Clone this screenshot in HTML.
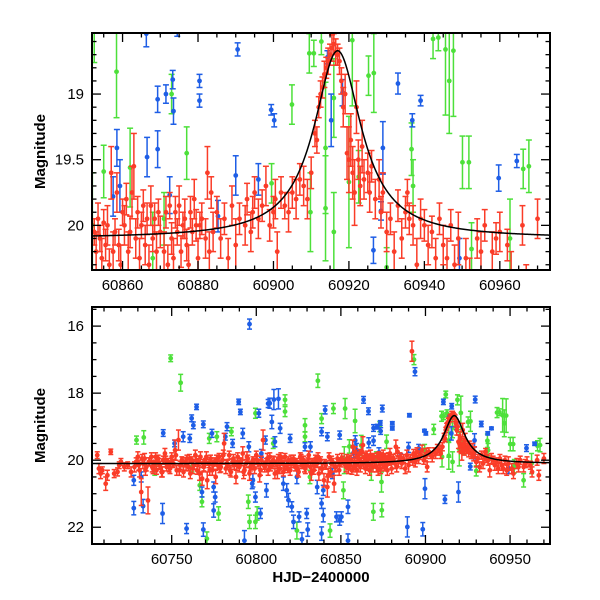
<!DOCTYPE html>
<html><head><meta charset="utf-8"><style>
body{margin:0;background:#fff}
svg{display:block}
text{font-family:"Liberation Sans",Arial,sans-serif;fill:#000}
</style></head><body>
<svg id="chart" width="600" height="600" viewBox="0 0 600 600">
<defs>
<clipPath id="clipTop"><rect x="92" y="33" width="458" height="237"/></clipPath>
<clipPath id="clipBot"><rect x="92" y="307" width="458" height="237"/></clipPath>
</defs>
<g id="topPanel"></g>
<g id="botPanel"></g>
</svg>
<script>
const redT=[60706,60707,60708,60709,60711,60712,60714,60716,60718,60719,60720,60722,60724,60726,60728,60729,60730,60731,60732,60733,60734,60735,60736,60737,60738,60739,60740,60741,60742,60743,60744,60745,60746,60747,60748,60749,60750,60751,60752,60753,60754,60755,60756,60757,60758,60759,60760,60761,60762,60763,60764,60765,60766,60767,60768,60769,60770,60771,60772,60773,60774,60775,60776,60777,60778,60779,60780,60781,60782,60783,60784,60785,60786,60787,60788,60789,60790,60791,60792,60793,60794,60795,60796,60797,60798,60799,60800,60801,60802,60803,60804,60805,60806,60807,60808,60809,60810,60811,60812,60813,60814,60815,60816,60817,60818,60819,60820,60821,60822,60823,60824,60825,60826,60827,60828,60829,60830,60831,60832,60833,60834,60835,60836,60837,60838,60839,60840,60841,60842,60843,60844,60845,60846,60847,60848,60849,60850,60851,
60730.5,60732.5,60734.5,60736.5,60738.5,60740.5,60742.5,60744.5,60746.5,60748.5,60750.5,60752.5,60754.5,60756.5,60758.5,60760.5,60762.5,60764.5,60766.5,60768.5,60770.5,60772.5,60774.5,60776.5,60778.5,60780.5,60782.5,60784.5,60786.5,60788.5,60790.5,60792.5,60794.5,60796.5,60798.5,60800.5,60802.5,60804.5,60806.5,60808.5,60810.5,60812.5,60814.5,60816.5,60818.5,60820.5,60822.5,60824.5,60826.5,60828.5,60830.5,60832.5,60834.5,60836.5,60838.5,60840.5,60842.5,60844.5,60846.5,60848.5,60850.5,
60852.5,60853,60853.5,60854,60854.5,60855,60855.5,60856,60856.5,60857,60857.5,60858,60858.5,60859,60859.5,60860,60860.5,60861,60861.5,60862,60862.5,60863,60863.5,60864,60864.5,60865,60865.5,60866,60866.5,60867,60867.5,60868,60868.5,60869,60869.5,60870,60871,60871.5,60872,60872.5,60873,60873.5,60874,60874.5,60875,60875.5,60876,60876.5,60877,60877.5,60878,60878.5,60879,60879.5,60880,60880.5,60881,60882,60882.5,60883,60883.5,60884,60885,60886,60887,60888,60889,60890,60891,60892,60892.5,60893,60894,60894.5,60895,60896,60897,60898,60899,60900,60900.5,60901,60902,60903,60904,60905,60906,60907,60908,60909,60910,60911,60911.5,60912,60912.5,60913,60913.5,60914,60914.5,60915,60915.5,60916,60916.5,60917,60917.5,60918,60918.5,60919,60919.5,60920,60920.5,60921,60921.5,60922,60922.5,60923,60923.5,60924,60925,60925.5,60926,60927,60928,60928.5,60929,60930,60931,60932,60933,60934,60935,60935.5,60936,60937,60938,60939,60940,60941,60942,60943,60944,60945,60946,60947,60948,60949,60951,60952,60954,60955,60956,60958,60959,60960,60962,60963,60966,60967,60970];
const redM=[19.85,20.25,20.4,20.3,20.7,20.45,19.75,20.4,20.35,20.15,20.05,20.2,20.15,20.35,20.2,20.05,19.9,20.3,20.95,20.1,19.95,20.2,21.2,20.05,19.9,20.25,20.1,20.3,19.95,20.15,20.35,20.0,19.8,20.2,20.05,20.25,19.9,20.1,19.7,20.3,19.4,20.15,20.0,20.35,20.05,19.95,20.2,20.4,20.0,20.15,19.85,20.3,20.05,19.9,20.55,20.2,20.05,20.6,20.1,19.95,20.3,20.05,20.5,20.15,19.9,20.2,20.0,19.5,20.25,20.1,19.85,20.35,20.05,20.15,20.5,19.9,20.2,20.05,19.8,20.3,20.1,19.95,20.4,20.15,20.0,20.25,19.85,20.1,20.45,20.0,19.4,20.2,20.05,20.3,19.9,20.15,20.0,20.4,20.1,19.95,20.25,20.05,20.35,19.9,20.15,20.0,20.3,20.1,19.95,20.2,20.05,20.35,19.9,20.15,20.0,20.25,20.1,19.85,20.2,20.05,20.3,19.95,20.1,20.4,20.0,20.25,20.6,20.15,20.8,19.9,20.35,20.05,20.7,20.2,19.95,20.3,20.1,20.0,
20.15,19.95,20.3,20.05,20.2,19.9,20.1,20.35,20.0,20.2,20.1,19.85,20.3,20.05,20.15,19.95,20.25,20.0,20.4,20.1,19.9,20.3,20.15,20.0,20.25,19.85,20.1,20.3,19.95,20.15,20.05,20.35,19.9,20.2,20.1,20.0,20.3,20.15,19.95,20.2,20.05,20.35,19.9,20.15,20.25,20.0,20.1,20.3,19.95,20.2,20.05,20.4,20.15,19.9,20.25,20.1,20.45,20.0,20.2,20.05,19.95,
20.05,20.2,19.95,20.1,20.25,19.98,20.15,20.0,20.3,19.6,20.2,20.05,19.75,20.15,20.3,19.9,20.0,19.8,20.2,20.05,19.75,19.55,20.1,19.9,20.25,20.0,19.85,20.15,19.95,20.3,19.85,20.1,19.95,20.2,19.9,20.05,20.2,19.9,20.3,19.85,20.1,20.25,19.9,20.05,19.85,20.2,20.0,19.95,20.15,20.3,19.9,20.05,19.8,20.0,20.25,20.0,19.95,20.1,19.6,20.2,19.75,20.05,19.9,20.1,19.95,20.25,19.85,20.15,19.95,16.75,20.0,19.8,20.05,19.9,19.75,19.95,19.85,19.7,20.0,19.9,19.8,20.2,19.75,19.85,19.9,19.75,19.8,19.65,19.7,19.8,19.6,19.3,19.35,19.1,19.0,18.95,18.85,18.8,18.75,18.7,18.65,18.62,18.68,18.7,18.75,18.9,19.1,19.0,19.45,19.5,19.35,19.6,19.75,19.1,19.5,19.7,19.4,19.65,19.6,19.75,19.55,19.8,19.65,19.9,19.75,20.05,19.95,20.2,19.85,20.1,19.9,19.75,19.95,20.0,20.3,19.95,20.0,20.15,20.05,20.25,19.95,20.15,20.25,20.0,20.3,20.1,20.25,20.4,20.1,20.2,20.0,20.2,20.1,20.05,20.15,20.35,20.0,20.45,19.95];
const redE=[0.1,0.15,0.15,0.1,0.2,0.15,0.08,0.12,0.12,0.1,0.1,0.12,0.1,0.15,0.15,0.12,0.15,0.2,0.4,0.15,0.15,0.12,0.4,0.12,0.12,0.15,0.1,0.12,0.1,0.12,0.15,0.12,0.15,0.12,0.1,0.15,0.12,0.1,0.3,0.15,0.3,0.12,0.1,0.15,0.12,0.1,0.12,0.15,0.1,0.12,0.15,0.12,0.1,0.15,0.2,0.12,0.1,0.25,0.12,0.1,0.15,0.12,0.2,0.12,0.1,0.15,0.12,0.3,0.15,0.1,0.12,0.15,0.1,0.12,0.2,0.12,0.15,0.1,0.2,0.15,0.12,0.1,0.2,0.12,0.1,0.15,0.12,0.1,0.2,0.12,0.3,0.15,0.1,0.15,0.12,0.1,0.12,0.15,0.1,0.12,0.15,0.1,0.12,0.1,0.12,0.1,0.15,0.12,0.1,0.12,0.1,0.15,0.12,0.1,0.12,0.15,0.1,0.12,0.15,0.1,0.12,0.1,0.12,0.2,0.1,0.15,0.2,0.12,0.3,0.12,0.15,0.1,0.25,0.12,0.12,0.15,0.1,0.12,
0.15,0.12,0.15,0.12,0.15,0.12,0.15,0.15,0.12,0.15,0.12,0.15,0.15,0.12,0.15,0.12,0.15,0.12,0.2,0.12,0.15,0.15,0.12,0.15,0.12,0.15,0.12,0.15,0.12,0.15,0.12,0.2,0.15,0.12,0.15,0.12,0.15,0.12,0.15,0.12,0.15,0.2,0.12,0.15,0.12,0.15,0.12,0.15,0.12,0.15,0.12,0.2,0.15,0.12,0.15,0.12,0.2,0.12,0.15,0.12,0.15,
0.1,0.15,0.12,0.1,0.15,0.1,0.12,0.15,0.12,0.2,0.15,0.1,0.15,0.12,0.15,0.1,0.15,0.12,0.15,0.12,0.2,0.25,0.15,0.12,0.15,0.1,0.12,0.15,0.12,0.15,0.15,0.1,0.12,0.15,0.1,0.12,0.15,0.12,0.15,0.1,0.12,0.15,0.12,0.1,0.15,0.12,0.1,0.15,0.12,0.15,0.12,0.1,0.15,0.12,0.15,0.1,0.12,0.15,0.2,0.15,0.12,0.15,0.12,0.15,0.12,0.15,0.15,0.2,0.12,0.3,0.15,0.12,0.15,0.12,0.12,0.15,0.12,0.15,0.12,0.12,0.15,0.15,0.12,0.1,0.15,0.12,0.15,0.12,0.15,0.15,0.12,0.1,0.1,0.08,0.1,0.08,0.1,0.08,0.1,0.08,0.1,0.08,0.1,0.08,0.1,0.1,0.15,0.15,0.2,0.25,0.2,0.2,0.25,0.2,0.15,0.15,0.2,0.15,0.15,0.15,0.12,0.15,0.15,0.12,0.15,0.15,0.12,0.15,0.12,0.15,0.12,0.1,0.12,0.15,0.2,0.15,0.12,0.15,0.12,0.15,0.12,0.15,0.15,0.12,0.15,0.2,0.15,0.15,0.15,0.15,0.12,0.15,0.12,0.15,0.12,0.15,0.15,0.15,0.15];

const blueT=[60727.6,60727.6,60732,60733.1,60744.6,60745,60751.7,60756.8,60758.8,60760.7,60761.8,60762.8,60764.7,60767.9,60768.7,60768.7,60773.8,60774.8,60774.8,60775.7,60781.7,60782.7,60789.6,60790.6,60793,60795.6,60796,60797.6,60799.5,60801.5,60802.5,60805.4,60807,60808,60809.2,60810.4,60813.1,60814.1,60818,60819,60821,60822,60825.3,60827,60828.8,60829.8,60830.4,60838.6,60838.6,60838.6,60839.6,60839.6,60840.7,60847.4,60849.3,60849.3,60850.3,60854.2,60854.2,
60786,60792,60798,60803,60806,60811,60816,60820,60824,60832,60836,60842,60845,
60857.5,60858.5,60859.3,60863.4,60866.3,60866.5,60869.3,60869.3,60871.5,60872.5,60873.3,60873.5,60874.5,60880.4,60880.4,60885.3,60889.3,60890,60890.5,60893.8,60896,60898.4,60899.4,60899.7,60900.2,60910.6,60911.5,60914.3,60915.3,60915.5,60918.3,60919.5,60926.5,60928.5,60929,60929.4,60933,60936.8,60939,60949.3,60959.7,60964.5];
const blueM=[20.6,21.43,20.5,21.37,21.59,19.19,19.5,19.3,22.04,19.35,18.75,18.96,18.41,20.95,18.93,22.07,19.2,20.8,21.5,21.1,19.3,19.0,18.26,18.56,22.4,19.6,15.94,20.7,21.1,18.6,21.59,19.4,18.31,18.3,18.86,18.19,18.17,19.05,20.9,21.19,21.39,21.84,21.69,22.36,19.6,21.59,22.07,19.15,21.29,22.19,20.9,21.64,18.5,21.69,21.79,19.25,21.69,21.39,22.4,
19.5,19.2,20.6,19.8,20.9,19.45,20.7,19.35,20.5,19.6,20.8,19.3,20.4,
19.78,19.41,19.7,18.2,18.54,19.48,19.04,19.42,19.0,19.77,18.89,19.13,18.46,18.9,19.05,19.93,21.99,19.62,18.66,17.36,19.65,22.06,19.12,20.85,19.2,18.26,21.17,18.72,19.2,18.39,18.99,20.95,20.19,19.89,19.41,18.19,18.92,19.2,19.05,20.25,19.64,19.51];
const blueE=[0.15,0.2,0.15,0.2,0.3,0.1,0.1,0.15,0.15,0.12,0.1,0.1,0.08,0.15,0.1,0.2,0.12,0.15,0.2,0.15,0.1,0.12,0.08,0.08,0.3,0.15,0.15,0.15,0.15,0.12,0.15,0.12,0.12,0.15,0.2,0.3,0.3,0.15,0.2,0.2,0.15,0.2,0.15,0.2,0.12,0.15,0.2,0.12,0.15,0.2,0.15,0.2,0.12,0.15,0.15,0.12,0.15,0.2,0.2,
0.12,0.15,0.2,0.12,0.2,0.15,0.2,0.12,0.2,0.15,0.2,0.12,0.15,
0.15,0.14,0.2,0.1,0.1,0.15,0.1,0.14,0.07,0.14,0.07,0.1,0.1,0.05,0.05,0.12,0.3,0.15,0.05,0.12,0.12,0.2,0.04,0.3,0.05,0.08,0.12,0.05,0.2,0.08,0.1,0.3,0.1,0.07,0.2,0.1,0.08,0.05,0.04,0.15,0.1,0.05];

const greenT=[60729.2,60733.5,60740,60749.4,60755.3,60762,60766.6,60767.9,60770.8,60772.2,60776.7,60777.7,60785.3,60795.3,60796,60799.5,60799.5,60800.5,60810,60817,60817,60824,60828.8,60828.8,60831.7,60836.4,60838.6,60843.6,60845.6,60851.5,
60852,60852.5,60855,60858.4,60862,60868,60869.2,60871,60873,60874,60874.2,60877,60893.2,60899.5,60904.9,60909.5,60909.8,60910.7,60912,60912.7,60913.8,60913.8,60916,60916,60918.9,60920,60920.9,60922.6,60925.2,60926.6,60930,60936.6,60937,60942.3,60943.7,60945.6,60946.6,60947.7,60950.1,60951.8,60952.5,60958,60962.7,60966.2,60967.7];
const greenM=[19.4,19.32,20.3,16.96,17.69,20.2,20.75,21.24,22.34,19.35,19.3,21.59,19.15,21.24,21.84,18.6,21.84,21.59,19.5,18.2,18.55,22.1,18.96,19.3,20.5,17.63,18.76,22.1,18.46,20.9,
20.0,18.46,19.59,18.83,19.56,20.25,21.54,19.95,19.0,20.65,21.49,19.45,17.0,19.68,19.08,18.69,19.9,18.69,18.04,18.6,19.41,19.87,19.03,20.05,18.2,19.67,18.59,19.63,18.86,18.84,20.32,19.42,19.7,18.58,18.57,18.66,18.9,18.67,19.52,19.52,20.18,20.6,20.1,19.57,19.55];
const greenE=[0.12,0.2,0.15,0.1,0.25,0.15,0.15,0.15,0.2,0.15,0.15,0.2,0.12,0.2,0.2,0.15,0.2,0.2,0.15,0.15,0.15,0.25,0.2,0.15,0.2,0.2,0.15,0.2,0.15,0.25,
0.4,0.3,0.2,0.35,0.3,0.35,0.25,0.2,0.15,0.3,0.2,0.2,0.15,0.15,0.15,0.15,0.3,0.1,0.1,0.1,0.5,0.4,0.3,0.3,0.15,0.5,0.5,0.2,0.15,0.3,0.15,0.2,0.2,0.15,0.1,0.5,0.4,0.5,0.2,0.2,0.2,0.2,0.3,0.15,0.2];

const model={t0:60917,base:20.1,amp:1.43,w:7.6};
const topXTicks=[60860,60880,60900,60920,60940,60960];
const topYTicks=[19,19.5,20];
const botXTicks=[60750,60800,60850,60900,60950];
const botYTicks=[16,18,20,22];

const NS='http://www.w3.org/2000/svg';
function mk(tag,attrs,parent){const e=document.createElementNS(NS,tag);for(const k in attrs)e.setAttribute(k,attrs[k]);parent.appendChild(e);return e;}
function modelMag(t){const u=(t-model.t0)/model.w;return model.base-model.amp/(1+u*u);}

function panel(g,cfg){
  const L=92,R=550,T=cfg.top,B=cfg.bottom;
  const xs=t=>L+(t-cfg.x0)/(cfg.x1-cfg.x0)*(R-L);
  const ys=m=>T+(m-cfg.y0)/(cfg.y1-cfg.y0)*(B-T);
  const data=mk('g',{'clip-path':'url(#'+cfg.clip+')'},g);
  
  
  const series=[['green','#4de03a',greenT,greenM,greenE],['blue','#1e5ee6',blueT,blueM,blueE],['red','#fa3c28',redT,redM,redE]];
  series.forEach(([nm,col,T_,M_,E_])=>{
    const sg=mk('g',{stroke:col,fill:col,'stroke-width':1.5},data);
    
    
    for(let i=0;i<T_.length;i++){
      if(T_[i]<cfg.x0-1||T_[i]>cfg.x1+1)continue;
      const x=xs(T_[i]),y=ys(M_[i]),y1=ys(M_[i]-E_[i]),y2=ys(M_[i]+E_[i]);
      const p=mk('g',{},sg);
      
      
      mk('line',{x1:x,x2:x,y1:y1,y2:y2},p);
      mk('line',{x1:x-cfg.cap,x2:x+cfg.cap,y1:y1,y2:y1},p);
      mk('line',{x1:x-cfg.cap,x2:x+cfg.cap,y1:y2,y2:y2},p);
      mk('circle',{cx:x,cy:y,r:cfg.r,stroke:'none'},p);
    }
  });
  let d='';
  for(let t=cfg.x0;t<=cfg.x1;t+=0.25){d+=(d?'L':'M')+xs(t).toFixed(2)+','+ys(modelMag(t)).toFixed(2);}
  const ml=mk('path',{d:d,fill:'none',stroke:'#000','stroke-width':1.5},data);
  
  
  const fr=mk('rect',{x:L,y:T,width:R-L,height:B-T,fill:'none',stroke:'#000','stroke-width':2},g);
  
  
  const tk=mk('g',{stroke:'#000','stroke-width':1.3},g);
  for(let v=Math.ceil(cfg.x0/cfg.xMinor)*cfg.xMinor;v<=cfg.x1;v+=cfg.xMinor){
    const x=xs(v),major=Math.abs(v/cfg.xMajor-Math.round(v/cfg.xMajor))<1e-6,len=major?9:4.5;
    mk('line',{x1:x,x2:x,y1:B,y2:B-len},tk);mk('line',{x1:x,x2:x,y1:T,y2:T+len},tk);
  }
  const nY=Math.round((cfg.y1-cfg.y0)/cfg.yMinor);
  for(let k=0;k<=nY+1;k++){
    const v=Math.ceil(cfg.y0/cfg.yMinor-1e-6)*cfg.yMinor+k*cfg.yMinor;if(v>cfg.y1)break;
    const y=ys(v),major=Math.abs(v/cfg.yMajor-Math.round(v/cfg.yMajor))<1e-6,len=major?9:4.5;
    mk('line',{x1:L,x2:L+len,y1:y,y2:y},tk);mk('line',{x1:R,x2:R-len,y1:y,y2:y},tk);
  }
  cfg.xt.forEach(v=>{const t=mk('text',{x:xs(v),y:B+20,'text-anchor':'middle','font-size':15},g);t.textContent=v;
    });
  cfg.yt.forEach(v=>{const t=mk('text',{x:L-8,y:ys(v)+5,'text-anchor':'end','font-size':15},g);t.textContent=v;
    });
  const yl=mk('text',{x:0,y:0,'text-anchor':'middle','font-size':15,'font-weight':'bold',transform:'translate(45,'+((T+B)/2)+') rotate(-90)'},g);
  yl.textContent='Magnitude';
  
  
}
panel(document.getElementById('topPanel'),{top:33,bottom:270,x0:60851.9,x1:60973.3,y0:18.535,y1:20.34,clip:'clipTop',cap:3,r:2.4,xMinor:5,xMajor:20,yMinor:0.1,yMajor:0.5,xt:topXTicks,yt:topYTicks});
panel(document.getElementById('botPanel'),{top:307,bottom:544,x0:60702.9,x1:60973.6,y0:15.43,y1:22.5,clip:'clipBot',cap:2.5,r:2.4,xMinor:10,xMajor:50,yMinor:0.5,yMajor:2,xt:botXTicks,yt:botYTicks});
const xl=mk('text',{x:321,y:582,'text-anchor':'middle','font-size':15,'font-weight':'bold'},document.getElementById('chart'));
xl.textContent='HJD−2400000';


</script>
</body></html>
